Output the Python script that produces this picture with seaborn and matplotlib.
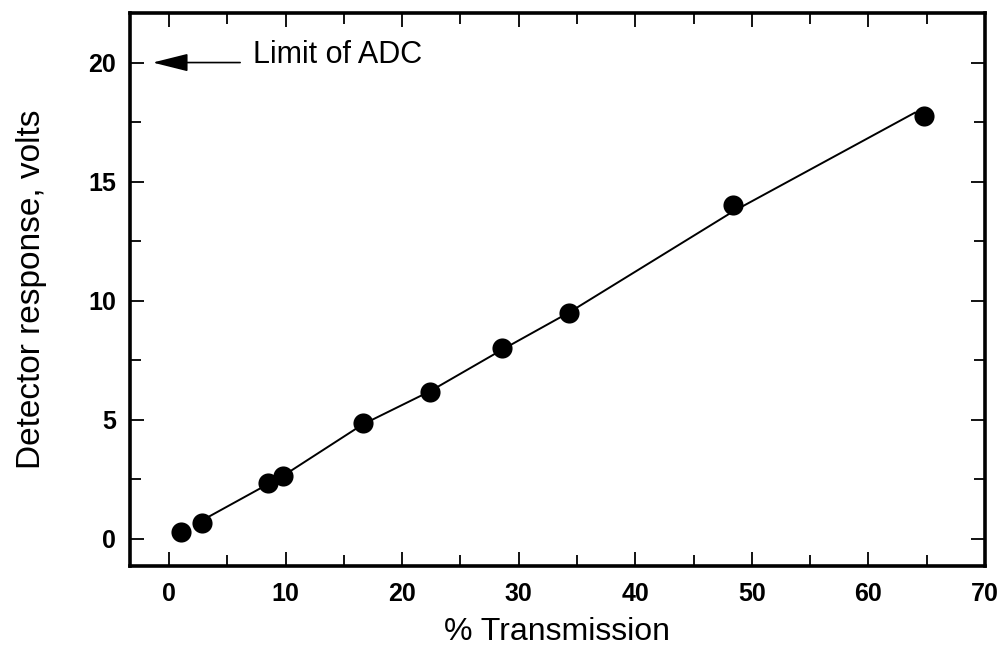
import pandas as pd
import matplotlib.pyplot as plt
import seaborn as sns
from matplotlib.ticker import MultipleLocator

# measured points (% transmission, detector volts)
transmission = [1.0, 2.8, 8.5, 9.8, 16.6, 22.4, 28.6, 34.3, 48.4, 64.8]
response = [0.27, 0.68, 2.33, 2.62, 4.85, 6.15, 8.0, 9.5, 14.02, 17.75]

# fitted curve as drawn
fit_x = [3.3, 9.8, 16.6, 22.4, 28.6, 34.3, 48.4, 64.0]
fit_y = [0.9, 2.65, 4.8, 6.2, 7.95, 9.5, 13.75, 17.9]

adc_limit = 20

sns.set_style("ticks")
plt.rcParams['font.family'] = ['Liberation Sans', 'DejaVu Sans']
plt.rcParams.update({'text.color': 'black', 'axes.labelcolor': 'black',
                     'xtick.color': 'black', 'ytick.color': 'black'})

pts = pd.DataFrame({'x': transmission, 'y': response})
fit = pd.DataFrame({'x': fit_x, 'y': fit_y})

fig = plt.figure(figsize=(10, 6.51), dpi=100)
ax = fig.add_axes([0.13, 0.131, 0.855, 0.849])

sns.lineplot(data=fit, x='x', y='y', color='black', linewidth=1.4, ax=ax)
sns.scatterplot(data=pts, x='x', y='y', color='black', s=210, edgecolor='black', linewidth=0, ax=ax, zorder=3)

ax.set_xlim(-3.35, 70)
ax.set_ylim(-1.13, 22.08)
ax.xaxis.set_major_locator(MultipleLocator(10))
ax.xaxis.set_minor_locator(MultipleLocator(5))
ax.yaxis.set_major_locator(MultipleLocator(5))
ax.yaxis.set_minor_locator(MultipleLocator(2.5))
ax.tick_params(which='both', direction='in', top=True, right=True, width=1.3)
ax.tick_params(which='major', length=10, labelsize=18)
ax.tick_params(which='minor', length=8)
ax.tick_params(axis='x', which='major', pad=12)
ax.tick_params(axis='y', which='major', pad=10)
for lab in ax.get_xticklabels() + ax.get_yticklabels():
    lab.set_fontweight('bold')

for side in ax.spines.values():
    side.set_linewidth(2.6)
    side.set_color('black')

ax.set_xlabel('% Transmission', fontsize=23, labelpad=8)
ax.set_ylabel('Detector response, volts', fontsize=24, labelpad=30)

ax.annotate('', xy=(-1.4, adc_limit), xytext=(6.1, adc_limit),
            arrowprops=dict(arrowstyle='-|>,head_length=2.2,head_width=0.55',
                            mutation_scale=10, color='black', lw=1.2,
                            shrinkA=0, shrinkB=0))
ax.text(7.2, adc_limit, 'Limit of ADC', fontsize=22, va='baseline', ha='left')

fig.savefig('out.png', dpi=100)
